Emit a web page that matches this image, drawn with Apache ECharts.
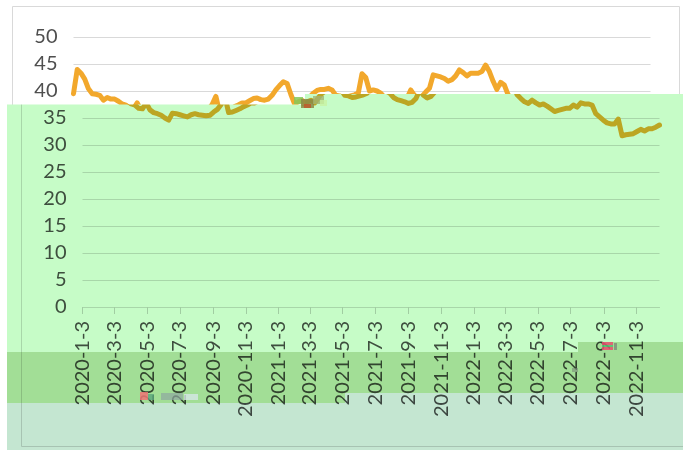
<!DOCTYPE html>
<html>
<head>
<meta charset="utf-8">
<script src="https://cdn.jsdelivr.net/npm/echarts@6/dist/echarts.min.js"></script>
<style>
  html, body { margin: 0; padding: 0; background: #fff; }
  #wrap { position: relative; width: 689px; height: 450px; background: #fff; overflow: hidden; }
  #main { position: absolute; left: 0; top: 0; width: 689px; height: 450px; }
  #ov { position: absolute; left: 0; top: 0; width: 689px; height: 450px; isolation: isolate;
        clip-path: polygon(7px 104.5px, 305px 104.5px, 305px 94px, 683px 94px, 683px 450px, 7px 450px); }
  #ovbg { position: absolute; left: 0; top: 0; width: 689px; height: 450px; background: #fff; }
  #copy { position: absolute; left: 9px; top: 0; width: 689px; height: 450px; }
  .tint { position: absolute; mix-blend-mode: multiply; }
  #noise { position: absolute; left: 0; top: 0; width: 689px; height: 450px; pointer-events: none; }
  #noise div { position: absolute; }
</style>
</head>
<body>
<div id="wrap">
  <div id="main"></div>
  <div id="ov">
    <div id="ovbg"></div>
    <div id="copy"></div>
    <div class="tint" style="left:7px;top:94px;width:571px;height:258px;background:#C6FCC7"></div>
    <div class="tint" style="left:578px;top:94px;width:105px;height:248px;background:#C6FCC7"></div>
    <div class="tint" style="left:7px;top:352px;width:338px;height:51px;background:#A2DE96"></div>
    <div class="tint" style="left:345px;top:352px;width:233px;height:41px;background:#A2DE96"></div>
    <div class="tint" style="left:578px;top:342px;width:105px;height:51px;background:#A2DE96"></div>
    <div class="tint" style="left:7px;top:403px;width:338px;height:47px;background:#C4E6D1"></div>
    <div class="tint" style="left:345px;top:393px;width:338px;height:57px;background:#C4E6D1"></div>
  </div>
  <div id="noise">
    <div style="left:294px;top:97px;width:9px;height:7px;background:#86c85a;opacity:.85"></div>
    <div style="left:301px;top:99px;width:13px;height:9px;background:#8c8a48;opacity:.85"></div>
    <div style="left:304px;top:104px;width:7px;height:4px;background:#c2562a;opacity:.8"></div>
    <div style="left:313px;top:96px;width:11px;height:8px;background:#a2b472;opacity:.8"></div>
    <div style="left:320px;top:100px;width:7px;height:6px;background:#c8f2a2;opacity:.8"></div>
    <div style="left:140px;top:392px;width:8px;height:8px;background:#ee7676;opacity:.85"></div>
    <div style="left:148px;top:394px;width:6px;height:6px;background:#5aa67c;opacity:.8"></div>
    <div style="left:161px;top:393px;width:22px;height:7px;background:#8fa8a0;opacity:.7"></div>
    <div style="left:184px;top:394px;width:14px;height:6px;background:#d6e6e6;opacity:.8"></div>
    <div style="left:602px;top:342px;width:11px;height:3px;background:#e8506e;opacity:.85"></div>
    <div style="left:602px;top:345px;width:11px;height:2px;background:#52c272;opacity:.85"></div>
    <div style="left:602px;top:347px;width:11px;height:3px;background:#e8506e;opacity:.85"></div>
    <div style="left:614px;top:343px;width:3px;height:7px;background:#707070;opacity:.6"></div>
    <div style="left:572px;top:368px;width:6px;height:4px;background:#7a8a7a;opacity:.6"></div>
  </div>
</div>
<script>
// ---- data ----
const firstDate = [2020, 1, 3];     // first weekly observation (also axis min)
const weekStepDays = 7;
const tickLabels = ['2020-1-3','2020-3-3','2020-5-3','2020-7-3','2020-9-3','2020-11-3',
  '2021-1-3','2021-3-3','2021-5-3','2021-7-3','2021-9-3','2021-11-3',
  '2022-1-3','2022-3-3','2022-5-3','2022-7-3','2022-9-3','2022-11-3'];
const values = [
  39.5,44.0,43.3,42.2,40.4,39.5,39.4,39.2,38.3,38.8,
  38.5,38.5,38.1,37.6,37.4,36.8,36.7,37.8,36.5,36.0,
  35.8,35.5,35.0,34.6,35.9,35.8,35.6,35.4,35.2,35.6,
  35.8,35.6,35.5,35.4,35.5,36.1,36.6,37.5,39.0,36.0,
  36.1,36.4,36.7,37.1,37.4,37.8,37.8,38.2,38.6,38.7,
  38.4,38.3,38.5,39.2,40.2,41.0,41.7,41.4,39.4,37.6,
  38.0,38.3,37.8,38.8,39.6,40.1,40.3,40.3,40.5,40.2,
  39.2,39.1,38.8,38.9,39.1,39.3,39.6,43.2,42.5,40.0,
  40.2,40.0,39.6,38.8,38.4,38.2,38.0,37.7,37.9,38.6,
  40.2,39.2,38.7,39.0,39.8,40.5,43.0,42.8,42.6,42.3,
  41.8,42.1,42.8,43.9,43.4,42.8,43.3,43.3,43.3,43.6,
  44.8,43.6,41.8,40.3,41.6,41.1,39.3,38.6,38.0,37.7,
  38.3,37.8,37.4,37.6,37.2,36.7,36.2,36.4,36.6,36.8,
  36.8,37.4,37.0,37.8,37.6,37.6,37.4,35.8,35.2,34.6,
  34.1,33.9,33.9,34.8,31.7,31.9,32.0,32.1,32.5,32.9,
  32.6,33.0,33.0,33.3,33.7
];
const yMin = 0, yMax = 50, yStep = 5;

// ---- build (x = days since first date) ----
const DAY = 86400000;
const t0 = Date.UTC(firstDate[0], firstDate[1] - 1, firstDate[2]);
const seriesData = values.map((v, i) => [i * weekStepDays, v]);
const xEnd = seriesData[seriesData.length - 1][0];
const tickDays = tickLabels.map(s => {
  const p = s.split('-').map(Number);
  return Math.round((Date.UTC(p[0], p[1] - 1, p[2]) - t0) / DAY);
});
function fmt(dayNum) {
  const d = new Date(t0 + dayNum * DAY);
  return d.getUTCFullYear() + '-' + (d.getUTCMonth() + 1) + '-' + d.getUTCDate();
}

const FONT = 'Lato';
const TEXT = '#4f4f4f';
const LINE = '#F2A82C';
const option = {
  animation: false,
  backgroundColor: '#ffffff',
  grid: { left: 73.5, right: 38.5, top: 37, bottom: 143, containLabel: false },
  xAxis: {
    type: 'value', min: 0, max: xEnd,
    axisLine: { show: true, onZero: false, lineStyle: { color: '#d9d9d9', width: 1 } },
    axisTick: { show: true, customValues: tickDays, length: 7, inside: false, lineStyle: { color: '#d0d0d0' } },
    axisLabel: { customValues: tickDays, rotate: 90, margin: 14, formatter: v => fmt(v),
      color: TEXT, fontSize: 20, fontFamily: FONT, hideOverlap: false },
    splitLine: { show: false }
  },
  yAxis: {
    type: 'value', min: yMin, max: yMax, interval: yStep,
    axisLine: { show: false }, axisTick: { show: false },
    axisLabel: { color: TEXT, fontSize: 20, fontFamily: FONT, margin: 16 },
    splitLine: { lineStyle: { color: '#d9d9d9', width: 1 } }
  },
  graphic: [{ type: 'rect', silent: true, z: -1,
    shape: { x: 12.5, y: 6.5, width: 667, height: 440 },
    style: { fill: 'none', stroke: '#d9d9d9', lineWidth: 1 } }],
  series: [{
    type: 'line', data: seriesData, showSymbol: false, symbol: 'none', clip: false,
    lineStyle: { color: LINE, width: 5, join: 'round', cap: 'round' },
    itemStyle: { color: LINE }
  }]
};

const main = echarts.init(document.getElementById('main'), null, { renderer: 'canvas' });
main.setOption(option);
const copy = echarts.init(document.getElementById('copy'), null, { renderer: 'canvas' });
copy.setOption(option);
</script>
</body>
</html>
